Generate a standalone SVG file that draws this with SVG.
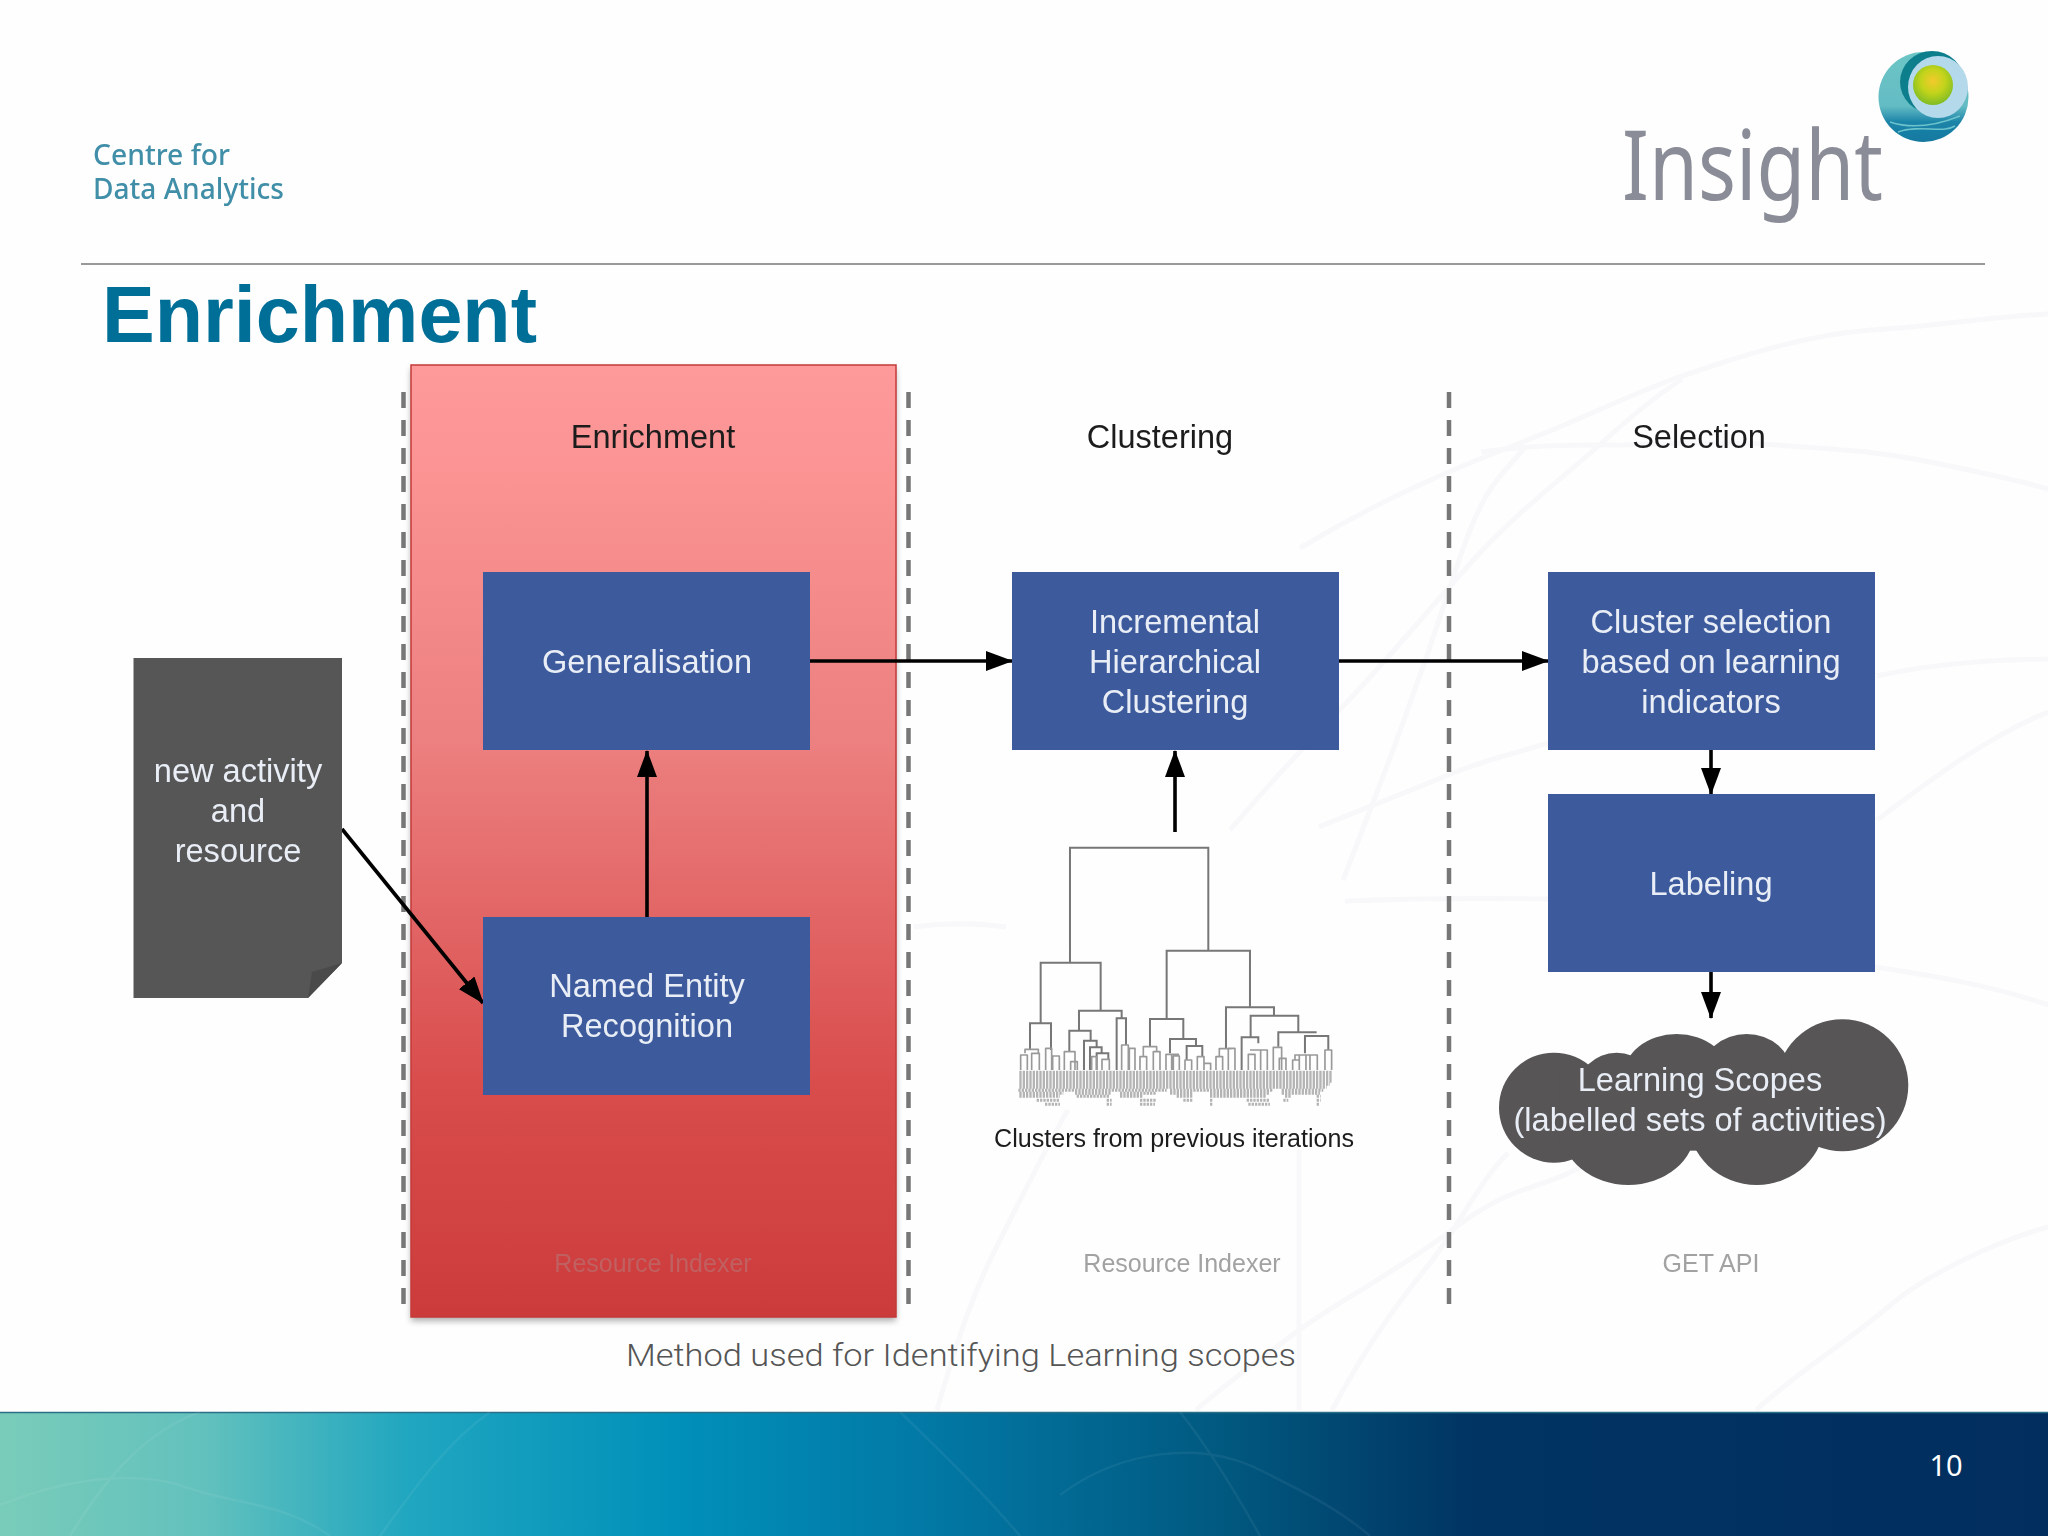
<svg xmlns="http://www.w3.org/2000/svg" width="2048" height="1536" viewBox="0 0 2048 1536">
<defs>
<linearGradient id="red" x1="0" y1="0" x2="0" y2="1"><stop offset="0" stop-color="#fe9a9a"/><stop offset=".12" stop-color="#fb9393"/><stop offset=".4" stop-color="#ec7f7f"/><stop offset=".75" stop-color="#d94d4d"/><stop offset="1" stop-color="#cc3b3b"/></linearGradient>
<linearGradient id="foot" x1="0" y1="0" x2="1" y2="0"><stop offset="0" stop-color="#79ccb9"/><stop offset=".1" stop-color="#62c1bd"/><stop offset=".2" stop-color="#20a6c0"/><stop offset=".33" stop-color="#0090b9"/><stop offset=".45" stop-color="#0279a6"/><stop offset=".6" stop-color="#01587f"/><stop offset=".72" stop-color="#013462"/><stop offset="1" stop-color="#012e5e"/></linearGradient>
<radialGradient id="yolk" cx=".5" cy=".4" r=".6"><stop offset="0" stop-color="#f3c92c"/><stop offset=".5" stop-color="#c3d41c"/><stop offset="1" stop-color="#7fbc24"/></radialGradient>
<linearGradient id="ball" x1="0" y1="0" x2="0" y2="1"><stop offset="0" stop-color="#6cc5c5"/><stop offset=".6" stop-color="#64bcc4"/><stop offset=".78" stop-color="#1c84a8"/><stop offset="1" stop-color="#1478a0"/></linearGradient>
<marker id="head" markerUnits="userSpaceOnUse" markerWidth="27" markerHeight="20" refX="26" refY="10" orient="auto"><path d="M0 0L27 10L0 20z" fill="#000"/></marker>
<filter id="soft" x="-2%" y="-2%" width="104%" height="104%"><feGaussianBlur stdDeviation="0.5"/></filter>
<filter id="shadow" x="-5%" y="-5%" width="110%" height="110%"><feGaussianBlur stdDeviation="3"/></filter>
</defs>
<style>
text{font-family:"Liberation Sans",Arial,sans-serif}
.box{fill:#3c5a9c}
.w{fill:#e9eef6;font-size:32.6px;text-anchor:middle}
.h{fill:#1c1c1c;font-size:32.5px;text-anchor:middle}
.api{fill:#a2a2a2;font-size:25px;text-anchor:middle}
.dash{stroke:#777;stroke-width:4.5;stroke-dasharray:16 12;fill:none}
.bg{fill:none;stroke:#f8f8fa;stroke-width:5}
.arrow{fill:none;stroke:#000;stroke-width:3.6;marker-end:url(#head)}
.den{fill:none;stroke:#777;stroke-width:6}
.arch{fill:none;stroke:#999;stroke-width:5;stroke-linejoin:round}
.leaf{fill:none;stroke:#b4b4b4;stroke-width:9;stroke-dasharray:7 3}
</style>
<rect width="2048" height="1536" fill="#fefefe"/>
<g id="background-lines">
<path class="bg" d="M1300 548C1380 500 1450 470 1515 445S1640 390 1682 376S1800 335 1872 330S2000 316 2048 314"/>
<path class="bg" d="M1481 452C1530 445 1570 445 1605 445S1720 440 1777 445S1870 450 1920 460S2010 478 2048 489"/>
<path class="bg" d="M1343 880C1390 760 1420 680 1453 578S1500 480 1524 448"/>
<path class="bg" d="M1230 830C1290 760 1320 730 1348 701S1420 620 1467 567S1560 480 1596 448S1650 400 1682 379"/>
<path class="bg" d="M1319 827C1360 810 1400 795 1443 777S1510 755 1548 743"/>
<path class="bg" d="M1877 676C1940 662 2000 660 2048 659"/>
<path class="bg" d="M1877 820C1930 780 1990 735 2048 712"/>
<path class="bg" d="M1345 901C1420 898 1490 898 1548 899"/>
<path class="bg" d="M914 927C950 922 985 924 1006 927"/>
<path class="bg" d="M1868 966C1930 975 1990 985 2048 1005"/>
<path class="bg" d="M937 1410C960 1330 975 1290 995 1250S1050 1140 1068 1110"/>
<path class="bg" d="M1196 1410C1230 1380 1260 1360 1295 1333S1400 1270 1456 1227S1540 1190 1581 1167"/>
<path class="bg" d="M1299 1410V1150"/>
<path class="bg" d="M1332 1410C1370 1340 1400 1300 1427 1267S1480 1180 1508 1153"/>
<path class="bg" d="M1756 1410C1800 1370 1850 1340 1888 1307S2000 1240 2048 1227"/>
</g>
<g id="header" filter="url(#soft)">
<text x="93" y="165" font-size="28" font-weight="500" fill="#3f8ea8" textLength="137" lengthAdjust="spacingAndGlyphs" style="font-family:'Noto Sans','Open Sans',sans-serif">Centre for</text>
<text x="93" y="199" font-size="28" font-weight="500" fill="#3f8ea8" textLength="191" lengthAdjust="spacingAndGlyphs" style="font-family:'Noto Sans','Open Sans',sans-serif">Data Analytics</text>
<text id="wordmark" x="1622" y="200" font-size="97" fill="#8a8c97" textLength="261" lengthAdjust="spacingAndGlyphs" style="font-family:'Noto Sans','Open Sans',sans-serif">Insight</text>
<g id="logo">
<ellipse cx="1923.5" cy="97" rx="45" ry="45" fill="url(#ball)"/>
<ellipse cx="1932" cy="82" rx="32" ry="31" fill="#0f7f8c"/>
<ellipse cx="1938" cy="87" rx="30" ry="31" fill="#b4d9ea"/>
<ellipse cx="1933" cy="85" rx="20" ry="20" fill="url(#yolk)"/>
<path d="M1890 122C1908 128 1930 128 1960 116M1898 132C1920 124 1942 134 1955 126" fill="none" stroke="#6cc3cc" stroke-width="1.5"/>
</g>
<line x1="81" y1="264" x2="1985" y2="264" stroke="#999" stroke-width="2"/>
</g>
<text id="title" x="102" y="342" font-size="80" font-weight="700" fill="#006f98" textLength="435" lengthAdjust="spacingAndGlyphs">Enrichment</text>
<g id="separators">
<line class="dash" x1="403.5" y1="392" x2="403.5" y2="1306"/>
<line class="dash" x1="908.5" y1="392" x2="908.5" y2="1306"/>
<line class="dash" x1="1449" y1="392" x2="1449" y2="1306"/>
</g>
<g id="enrichment-band">
<rect x="411" y="369" width="485" height="952" fill="#777" opacity=".6" filter="url(#shadow)"/>
<rect x="411" y="365" width="485" height="952" fill="url(#red)" stroke="#c33a3a" stroke-width="1.5"/>
</g>
<g id="column-labels" filter="url(#soft)">
<text class="h" x="653" y="448">Enrichment</text>
<text class="h" x="1160" y="448">Clustering</text>
<text class="h" x="1699" y="448">Selection</text>
<text class="api" x="653" y="1272" style="fill:#c06060">Resource Indexer</text>
<text class="api" x="1182" y="1272">Resource Indexer</text>
<text class="api" x="1711" y="1272">GET API</text>
</g>
<g id="connectors">
<line class="arrow" x1="810" y1="661" x2="1012" y2="661"/>
<line class="arrow" x1="1339" y1="661" x2="1548" y2="661"/>
<line class="arrow" x1="647" y1="917" x2="647" y2="751"/>
<line class="arrow" x1="1175" y1="832" x2="1175" y2="751"/>
<line class="arrow" x1="1711" y1="750" x2="1711" y2="794"/>
<line class="arrow" x1="1711" y1="972" x2="1711" y2="1018"/>
<line class="arrow" x1="342" y1="829" x2="483" y2="1003"/>
</g>
<g id="document">
<path d="M133.5 658H342V963L308 998H133.5z" fill="#575657"/>
<path d="M308 998L312 972L342 963z" fill="#4b4a4b"/>
<g filter="url(#soft)"><text class="w" x="238" y="782">new activity</text><text class="w" x="238" y="822">and</text><text class="w" x="238" y="862">resource</text></g>
</g>
<g id="generalisation"><rect class="box" x="483" y="572" width="327" height="178"/><text class="w" x="647" y="673" filter="url(#soft)">Generalisation</text></g>
<g id="named-entity-recognition"><rect class="box" x="483" y="917" width="327" height="178"/><g filter="url(#soft)"><text class="w" x="647" y="997">Named Entity</text><text class="w" x="647" y="1037">Recognition</text></g></g>
<g id="incremental-clustering"><rect class="box" x="1012" y="572" width="327" height="178"/><g filter="url(#soft)"><text class="w" x="1175" y="633">Incremental</text><text class="w" x="1175" y="673">Hierarchical</text><text class="w" x="1175" y="713">Clustering</text></g></g>
<g id="cluster-selection"><rect class="box" x="1548" y="572" width="327" height="178"/><g filter="url(#soft)"><text class="w" x="1711" y="633">Cluster selection</text><text class="w" x="1711" y="673">based on learning</text><text class="w" x="1711" y="713">indicators</text></g></g>
<g id="labeling"><rect class="box" x="1548" y="794" width="327" height="178"/><text class="w" x="1711" y="895" filter="url(#soft)">Labeling</text></g>
<g id="dendrogram">
<g transform="translate(980 820) scale(.3333)" filter="url(#soft)">
<path class="den" d="M270 425V83H685V390M182 610V428H362V572M560 595V392H810V560"/>
<path class="den" d="M150 690V610H213V690M297 630V572H425V595M268 695V632H332V660M410 750V595H438V675M312 750V662H350V680M330 750V682H365V700M350 750V700H385V720"/>
<path class="den" d="M510 680V597H610V655M570 700V657H648V678M620 720V678H667V710"/>
<path class="den" d="M738 685V562H882V585M812 650V587H955V635M785 750V652H835V670M895 680V637H1010M975 700V648H1045V690"/>
<path class="arch" d="M122 750V705H142V750M135 700V688H175V700M155 750V700H178V750M197 750V685H215V750M218 750V708H238V750M253 750V695H285V750M272 750V725H292V750M335 750V710H350V750M366 750V718H388V750M425 750V675H445V750M448 750V685H465V750M480 750V710H500V750M490 710V680H530V695M520 750V695H540V750M558 750V703H575V750M560 703H595V708M580 750V708H598V750M615 750V720H635V750M652 750V710H672V750M672 750V730H692V750M708 750V710H728V750M718 710V686H755M745 750V685H765V750M805 750V703H825V750M810 690H845M842 750V690H862V750M880 750V682H905V750M898 750V715H918V750M938 750V720H958V750M945 720V705H1000M958 750V705H978V750M990 750V705H1012V750M1035 750V690H1055V750"/>
<path class="leaf" d="M118 757H1058M118 766H1058M118 775H1058M118 784H1058M118 793H1050M118 802H1040M115 811H560M570 811H880M905 811H1030M118 820H250M285 820H395M420 820H530M570 820H640M690 820H870M905 820H1020M118 829H240M290 829H390M420 829H490M590 829H640M690 829H860M915 829H935M1010 829H1022M170 841H240M380 841H395M480 841H530M610 841H640M690 841H700M800 841H870M910 841H925M1010 841H1022M195 853H240M380 853H395M480 853H525M690 853H698M805 853H870M1010 853H1020"/>
</g>
<text x="1174" y="1147" font-size="26" fill="#1c1c1c" text-anchor="middle" textLength="360" lengthAdjust="spacingAndGlyphs" filter="url(#soft)">Clusters from previous iterations</text>
</g>
<g id="learning-scopes">
<g transform="translate(1460 960) scale(.3333)" fill="#575556">
<circle cx="282" cy="443" r="165"/><ellipse cx="505" cy="510" rx="200" ry="165"/><ellipse cx="890" cy="480" rx="205" ry="195"/><circle cx="1147" cy="376" r="198"/><ellipse cx="650" cy="350" rx="160" ry="128"/><ellipse cx="860" cy="340" rx="135" ry="118"/><circle cx="470" cy="398" r="120"/><rect x="300" y="340" width="800" height="220"/><rect x="600" y="500" width="200" height="72"/>
</g>
<g filter="url(#soft)"><text class="w" x="1700" y="1091">Learning Scopes</text><text class="w" x="1700" y="1131">(labelled sets of activities)</text></g>
</g>
<text id="caption" x="626" y="1366" font-size="32" fill="#555" textLength="670" lengthAdjust="spacingAndGlyphs" style="font-family:'Roboto','Liberation Sans',sans-serif;font-weight:300">Method used for Identifying Learning scopes</text>
<g id="footer">
<rect y="1412" width="2048" height="124" fill="url(#foot)"/>
<line x1="0" y1="1412.5" x2="2048" y2="1412.5" stroke="#2b6f86" stroke-width="1.5"/>
<path d="M0 1505C60 1480 130 1470 180 1485C230 1505 280 1500 330 1536M70 1536C110 1470 150 1430 200 1412M380 1536C420 1480 450 1440 490 1412M900 1412C950 1460 990 1500 1020 1536M1060 1495C1120 1450 1200 1440 1260 1470C1310 1495 1340 1510 1370 1536M1180 1412C1210 1450 1240 1500 1260 1536" fill="none" stroke="#ffffff" stroke-opacity=".06" stroke-width="2.5"/>
<text x="1946" y="1476" font-size="29" fill="#fff" text-anchor="middle" style="font-family:'Noto Sans','Open Sans',sans-serif">10</text>
</g>
</svg>
